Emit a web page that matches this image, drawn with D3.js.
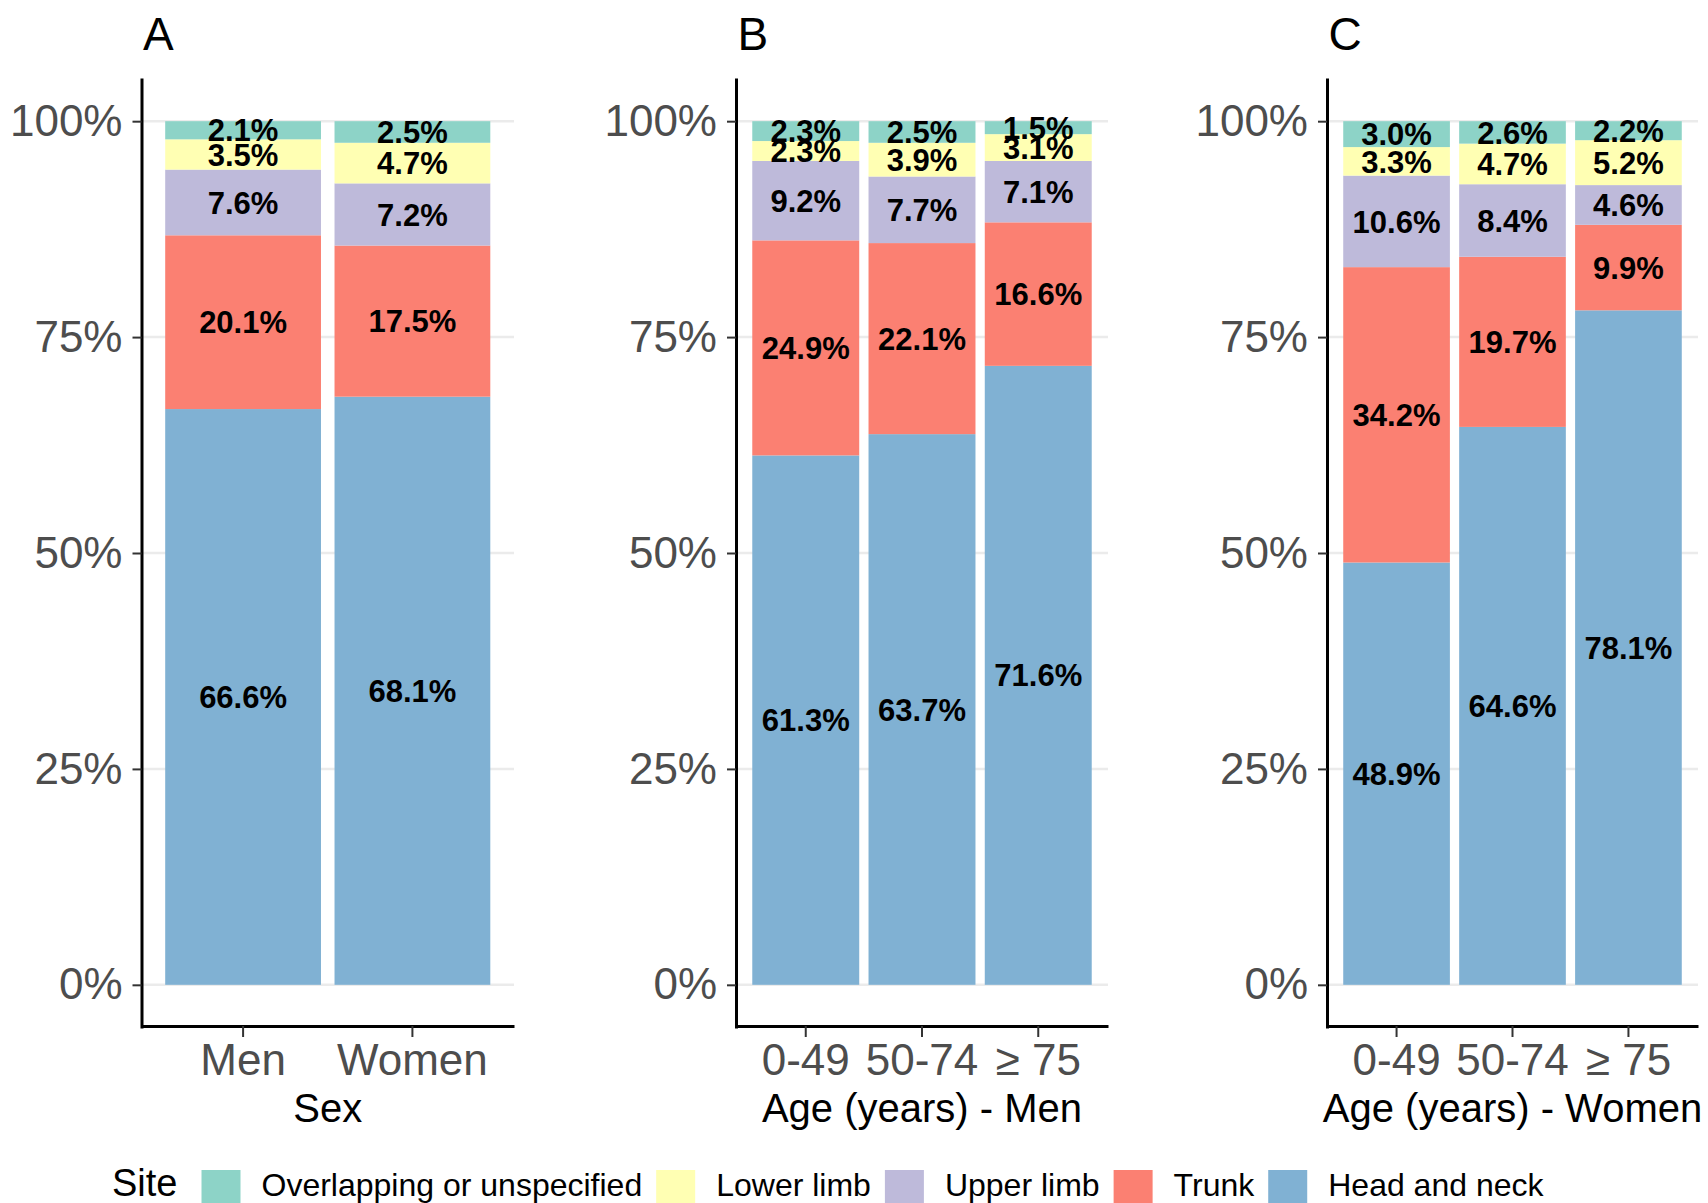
<!DOCTYPE html>
<html>
<head>
<meta charset="utf-8">
<script src="https://cdn.jsdelivr.net/npm/d3@7"></script>
<style>
  html, body { margin: 0; padding: 0; background: #fff; }
  svg { display: block; font-family: "Liberation Sans", Arial, sans-serif; }
</style>
</head>
<body>
<svg id="chart" width="1708" height="1203"></svg>
<script>
// Anatomical site of the tumour, bottom of the stack first
const sites = ["Head and neck", "Trunk", "Upper limb", "Lower limb", "Overlapping or unspecified"];
const siteColors = ["#80B1D3", "#FB8072", "#BEBADA", "#FFFFB3", "#8DD3C7"];
const legendOrder = ["Overlapping or unspecified", "Lower limb", "Upper limb", "Trunk", "Head and neck"];

// Categories on each x axis
const sexGroups = ["Men", "Women"];
const ageGroups = ["0-49", "50-74", "≥ 75"];

// Percentages per site, by sex
const sexHeadNeck = [66.6, 68.1];
const sexTrunk    = [20.1, 17.5];
const sexUpper    = [7.6, 7.2];
const sexLower    = [3.5, 4.7];
const sexOverlap  = [2.1, 2.5];

// Percentages per site, by age group, men
const menHeadNeck = [61.3, 63.7, 71.6];
const menTrunk    = [24.9, 22.1, 16.6];
const menUpper    = [9.2, 7.7, 7.1];
const menLower    = [2.3, 3.9, 3.1];
const menOverlap  = [2.3, 2.5, 1.5];

// Percentages per site, by age group, women
const womenHeadNeck = [48.9, 64.6, 78.1];
const womenTrunk    = [34.2, 19.7, 9.9];
const womenUpper    = [10.6, 8.4, 4.6];
const womenLower    = [3.3, 4.7, 5.2];
const womenOverlap  = [3.0, 2.6, 2.2];

// Y axis ticks
const yTicks = [0, 0.25, 0.5, 0.75, 1];

function rows(cats, hn, tr, up, lo, ov) {
  return cats.map((c, i) => ({
    cat: c,
    "Head and neck": hn[i],
    "Trunk": tr[i],
    "Upper limb": up[i],
    "Lower limb": lo[i],
    "Overlapping or unspecified": ov[i]
  }));
}

const panels = [
  { tag: "A", cats: sexGroups, xTitle: "Sex", x0: 141.5, x1: 514,
    rows: rows(sexGroups, sexHeadNeck, sexTrunk, sexUpper, sexLower, sexOverlap) },
  { tag: "B", cats: ageGroups, xTitle: "Age (years) - Men", x0: 736, x1: 1108,
    rows: rows(ageGroups, menHeadNeck, menTrunk, menUpper, menLower, menOverlap) },
  { tag: "C", cats: ageGroups, xTitle: "Age (years) - Women", x0: 1327, x1: 1698,
    rows: rows(ageGroups, womenHeadNeck, womenTrunk, womenUpper, womenLower, womenOverlap) }
];

const svg = d3.select("#chart");
const color = d3.scaleOrdinal().domain(sites).range(siteColors);

// Shared proportional scale with a 5% margin above and below
const y = d3.scaleLinear().domain([-0.05, 1.05]).range([1028, 78]);

const stack = d3.stack().keys(sites).offset(d3.stackOffsetExpand);

panels.forEach(p => {
  const g = svg.append("g");
  const x = d3.scaleBand().domain(p.cats).range([p.x0, p.x1])
    .paddingInner(0.08).paddingOuter(0.14);

  // horizontal grid
  g.append("g").selectAll("line").data(yTicks).join("line")
    .attr("x1", p.x0).attr("x2", p.x1)
    .attr("y1", d => y(d)).attr("y2", d => y(d))
    .attr("stroke", "#EBEBEB").attr("stroke-width", 2.5);

  const series = stack(p.rows);

  // stacked bars
  g.append("g").selectAll("g").data(series).join("g")
    .attr("fill", d => color(d.key))
    .selectAll("rect").data(d => d).join("rect")
      .attr("x", d => x(d.data.cat))
      .attr("width", x.bandwidth())
      .attr("y", d => y(d[1]))
      .attr("height", d => y(d[0]) - y(d[1]));

  // value labels, centred in each segment
  const labels = [];
  series.forEach(s => s.forEach(d => labels.push({
    cat: d.data.cat, mid: (d[0] + d[1]) / 2, v: d.data[s.key]
  })));
  g.append("g").selectAll("text").data(labels).join("text")
    .attr("x", d => x(d.cat) + x.bandwidth() / 2)
    .attr("y", d => y(d.mid))
    .attr("dy", "0.36em")
    .attr("text-anchor", "middle")
    .attr("font-size", 31)
    .attr("font-weight", "bold")
    .attr("fill", "#000")
    .text(d => d.v.toFixed(1) + "%");

  // y axis
  const ya = g.append("g").attr("transform", `translate(${p.x0},0)`)
    .call(d3.axisLeft(y).tickValues(yTicks).tickFormat(d3.format(".0%"))
      .tickSize(9).tickSizeOuter(0).tickPadding(10));
  ya.select(".domain").attr("stroke", "#000").attr("stroke-width", 3);
  ya.selectAll(".tick line").attr("stroke", "#333").attr("stroke-width", 2);
  ya.selectAll(".tick text").attr("font-size", 44).attr("fill", "#4D4D4D")
    .attr("font-family", "Liberation Sans, Arial, sans-serif");

  // x axis
  const xa = g.append("g").attr("transform", "translate(0,1026)")
    .call(d3.axisBottom(x).tickSize(11).tickSizeOuter(0).tickPadding(7));
  xa.select(".domain").attr("stroke", "#000").attr("stroke-width", 3);
  xa.selectAll(".tick line").attr("stroke", "#333").attr("stroke-width", 2);
  xa.selectAll(".tick text").attr("font-size", 44).attr("fill", "#4D4D4D")
    .attr("font-family", "Liberation Sans, Arial, sans-serif");

  // axis title
  g.append("text")
    .attr("x", (p.x0 + p.x1) / 2).attr("y", 1122)
    .attr("text-anchor", "middle").attr("font-size", 40).attr("fill", "#000")
    .text(p.xTitle);

  // panel tag
  g.append("text")
    .attr("x", p.x0 + 1.5).attr("y", 50)
    .attr("font-size", 46).attr("fill", "#000")
    .text(p.tag);
});

// legend
const lg = svg.append("g");
lg.append("text").attr("x", 112).attr("y", 1196)
  .attr("font-size", 38).attr("fill", "#000").text("Site");
let lx = 201.5;
legendOrder.forEach(k => {
  lg.append("rect").attr("x", lx).attr("y", 1170)
    .attr("width", 39).attr("height", 39).attr("fill", color(k));
  const t = lg.append("text").attr("x", lx + 60).attr("y", 1196)
    .attr("font-size", 32).attr("fill", "#000").text(k);
  lx = lx + 60 + t.node().getComputedTextLength() + 14;
});
</script>
</body>
</html>
